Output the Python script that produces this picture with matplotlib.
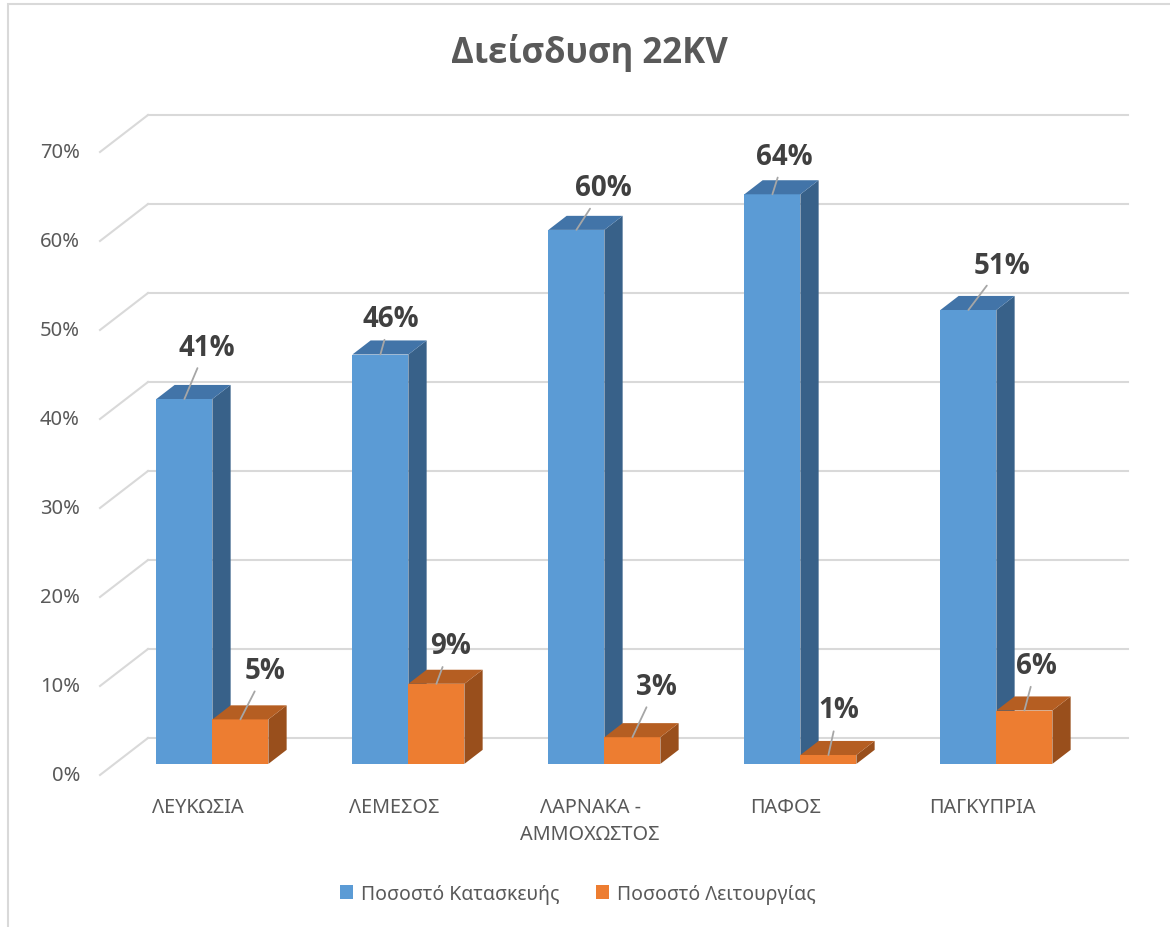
import matplotlib.pyplot as plt
from matplotlib.patches import Polygon, Patch, Rectangle

plt.rcParams['font.family'] = ['Noto Sans', 'DejaVu Sans']
bold_family = ['Open Sans', 'Roboto', 'DejaVu Sans']

# data
categories = ['ΛΕΥΚΩΣΙΑ', 'ΛΕΜΕΣΟΣ', 'ΛΑΡΝΑΚΑ -\nΑΜΜΟΧΩΣΤΟΣ', 'ΠΑΦΟΣ', 'ΠΑΓΚΥΠΡΙΑ']
construction = [41, 46, 60, 64, 51]
operation = [5, 9, 3, 1, 6]
series_names = ['Ποσοστό Κατασκευής', 'Ποσοστό Λειτουργίας']
yticks = [0, 10, 20, 30, 40, 50, 60, 70]
title = 'Διείσδυση 22KV'

# label offsets (pixels) from the front-top centre of each bar
blue_off = [(22, 52), (10, 36), (27, 42), (12, 38), (34, 45)]
orange_off = [(25, 49), (14, 38), (24, 51), (10, 45), (12, 45)]

# colours
blue = ['#5B9BD5', '#4274A8', '#386189']
orange = ['#ED7D31', '#B55E22', '#994F1C']
grid_c = '#D9D9D9'
text_c = '#595959'

# pixel layout of the pseudo 3d box
W, H = 1170, 928
px_cat = 196.0     # pixels per category
px_pct = 8.9       # pixels per percent
x0_px, y0_px = 100, 776
DX = 48 / px_cat   # depth of the floor in data units
DY = 37 / px_pct
f0 = 0.30          # depth of the bar front faces
fb = 0.38          # bar depth
bw = 56 / px_cat   # bar width

fig = plt.figure(figsize=(W / 100, H / 100), dpi=100)
ax = fig.add_axes([0, 0, 1, 1])
ax.set_xlim(-0.5 - x0_px / px_cat, -0.5 + (W - x0_px) / px_cat)
ax.set_ylim(-(H - y0_px) / px_pct, y0_px / px_pct)
ax.axis('off')

# gridlines with the slanted side wall
for v in yticks:
    ax.plot([-0.5, -0.5 + DX], [v, v + DY], color=grid_c, lw=1.5, zorder=1)
    ax.plot([-0.5 + DX, len(categories) - 0.5 + DX], [v + DY, v + DY],
            color=grid_c, lw=1.5, zorder=1)
    ax.text(-0.5 - 20 / px_cat, v, f'{v}%', ha='right', va='center',
            fontsize=14.5, color=text_c)


def bar3d(x_left, val, cols, z):
    sx, sy = f0 * DX, f0 * DY
    ddx, ddy = fb * DX, fb * DY
    xl = x_left + sx
    xr = xl + bw
    yb = sy
    yt = sy + val
    ax.bar(xl, val, width=bw, bottom=yb, align='edge', color=cols[0],
           lw=0, zorder=z)
    ax.add_patch(Polygon([(xr, yb), (xr + ddx, yb + ddy), (xr + ddx, yt + ddy), (xr, yt)],
                         closed=True, fc=cols[2], lw=0, zorder=z))
    ax.add_patch(Polygon([(xl, yt), (xr, yt), (xr + ddx, yt + ddy), (xl + ddx, yt + ddy)],
                         closed=True, fc=cols[1], lw=0, zorder=z))
    return (xl + xr) / 2, yt


z = 3
for i, cat in enumerate(categories):
    for val, cols, off, left in [(construction[i], blue, blue_off[i], i - bw),
                                 (operation[i], orange, orange_off[i], i)]:
        cx, cy = bar3d(left, val, cols, z)
        ax.annotate(f'{val}%', xy=(cx, cy), xytext=off, textcoords='offset pixels',
                    ha='center', va='center', fontsize=20, fontweight='bold',
                    family=bold_family, color='#404040', zorder=20,
                    arrowprops=dict(arrowstyle='-', color='#A6A6A6', lw=1.3,
                                    shrinkA=3, shrinkB=0))
        z += 1
    ax.text(i, -(798 - y0_px) / px_pct, cat, ha='center', va='top',
            fontsize=14.3, color=text_c, linespacing=1.45)

fig.text(589 / W, 1 - 53 / H, title, ha='center', va='center',
         fontsize=25, fontweight='bold', family=bold_family, color=text_c)

handles = [Patch(fc=blue[0], ec='none'), Patch(fc=orange[0], ec='none')]
fig.legend(handles, series_names, loc='center', bbox_to_anchor=(578 / W, 1 - 895 / H),
           ncol=2, frameon=False, fontsize=14, labelcolor=text_c,
           handlelength=0.65, handleheight=0.7, handletextpad=0.4, columnspacing=1.9)

fig.patches.append(Rectangle((8 / W, -0.1), 1.2, 0.1 + (H - 5) / H, transform=fig.transFigure,
                             fill=False, ec=grid_c, lw=1.5))

fig.savefig('out.png', dpi=100)
